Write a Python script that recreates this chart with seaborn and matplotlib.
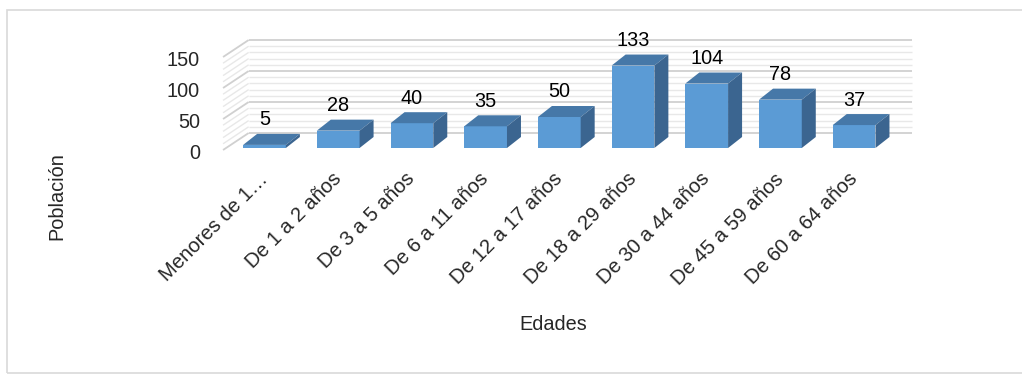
import numpy as np
import pandas as pd
import matplotlib
matplotlib.use("Agg")
import matplotlib.pyplot as plt
import seaborn as sns
from matplotlib.patches import Polygon, Rectangle
from matplotlib.transforms import ScaledTranslation

# ---- data ----
categories = ["Menores de 1…", "De 1 a 2 años", "De 3 a 5 años", "De 6 a 11 años",
              "De 12 a 17 años", "De 18 a 29 años", "De 30 a 44 años",
              "De 45 a 59 años", "De 60 a 64 años"]
values = [5, 28, 40, 35, 50, 133, 104, 78, 37]
y_ticks = [0, 50, 100, 150]
y_label = "Población"
x_label = "Edades"

sns.set_style("white")
plt.rcParams["font.family"] = ["Liberation Sans", "DejaVu Sans"]
FS = 14.3
FS_X = 14.6

FRONT = "#5B9BD5"
TOP = "#4678A8"
SIDE = "#3B6590"
GRID_MAJ = "#D0D0D0"
GRID_MIN = "#E8E8E8"

W, H = 1022, 376
fig = plt.figure(figsize=(W / 100, H / 100), dpi=100)
fig.patch.set_facecolor("white")

# chart border
fig.add_artist(Rectangle((7 / W, 1 - 373 / H), (W + 5 - 7) / W, (373 - 10) / H,
                         transform=fig.transFigure, fill=False,
                         edgecolor="#D9D9D9", linewidth=1.2))

ax_left, ax_right = 227.65, 890.95
ax_top, ax_bot = 55.0, 148.0
ax = fig.add_axes([ax_left / W, 1 - ax_bot / H, (ax_right - ax_left) / W, (ax_bot - ax_top) / H])
ax.set_facecolor("none")

df = pd.DataFrame({"cat": categories, "val": values})
sns.barplot(data=df, x="cat", y="val", color=FRONT, saturation=1, width=0.58,
            ax=ax, zorder=3, edgecolor="none")
ax.set_xlim(-0.5, len(categories) - 0.5)
ax.set_ylim(0, 150)

# pixel -> data conversion
fig.canvas.draw()
p0 = ax.transData.transform((0, 0))
p1 = ax.transData.transform((1, 1))
ppx, ppy = p1[0] - p0[0], p1[1] - p0[1]
def dx(px): return px / ppx
def dy(px): return px / ppy  # px upward

x0, x1 = ax.get_xlim()

# back wall + side wall gridlines
back_dx, back_dy = dx(21), dy(15)
front_dx, front_dy = dx(-4.6), dy(-2)
for v in range(0, 151, 10):
    major = (v % 50 == 0)
    c = GRID_MAJ if major else GRID_MIN
    lw = 1.3 if major else 1.0
    z = 1.5 if major else 1
    ax.plot([x0 + back_dx, x1 + back_dx], [v + back_dy, v + back_dy], color=c, lw=lw,
            zorder=z, clip_on=False, solid_capstyle="butt")
    ax.plot([x0 + back_dx, x0 + front_dx], [v + back_dy, v + front_dy], color=c, lw=lw,
            zorder=z, clip_on=False, solid_capstyle="butt")

# 3D faces of bars
ddx, ddy = dx(14), dy(11)
for p in ax.patches:
    if not hasattr(p, "get_x"):
        continue
    bx, bw, bh = p.get_x(), p.get_width(), p.get_height()
    top = Polygon([(bx, bh), (bx + bw, bh), (bx + bw + ddx, bh + ddy), (bx + ddx, bh + ddy)],
                  closed=True, facecolor=TOP, edgecolor="none", zorder=3, clip_on=False)
    side = Polygon([(bx + bw, 0), (bx + bw + ddx, ddy), (bx + bw + ddx, bh + ddy), (bx + bw, bh)],
                   closed=True, facecolor=SIDE, edgecolor="none", zorder=3, clip_on=False)
    ax.add_patch(top)
    ax.add_patch(side)
    p.set_clip_on(False)

# data labels
for i, v in enumerate(values):
    ax.annotate(str(v), xy=(i, v), xytext=(0, 25 * 0.72), textcoords="offset points",
                ha="center", va="center", fontsize=FS, color="#000000", zorder=5)

for s in ax.spines.values():
    s.set_visible(False)
ax.grid(False)

ax.set_yticks(y_ticks)
ax.set_yticklabels([str(t) for t in y_ticks])
ax.tick_params(axis="y", length=0, pad=27.6 * 0.72, labelsize=FS)
for lab in ax.get_yticklabels():
    lab.set_transform(lab.get_transform() + ScaledTranslation(0, -4 / 100, fig.dpi_scale_trans))

ax.set_xticks(range(len(categories)))
ax.set_xticklabels(categories, rotation=45, ha="right", va="center", rotation_mode="anchor")
ax.tick_params(axis="x", length=0, pad=28 * 0.72, labelsize=FS_X)

ax.set_xlabel(x_label, fontsize=FS)
ax.set_ylabel(y_label, fontsize=FS)
ax.xaxis.set_label_coords((553 - ax_left) / (ax_right - ax_left), (ax_bot - 325) / (ax_bot - ax_top))
ax.xaxis.label.set_va("center")
ax.yaxis.set_label_coords((57 - ax_left) / (ax_right - ax_left), (ax_bot - 196) / (ax_bot - ax_top))
ax.yaxis.label.set_va("center")

fig.savefig("out.png", dpi=100, facecolor="white")
